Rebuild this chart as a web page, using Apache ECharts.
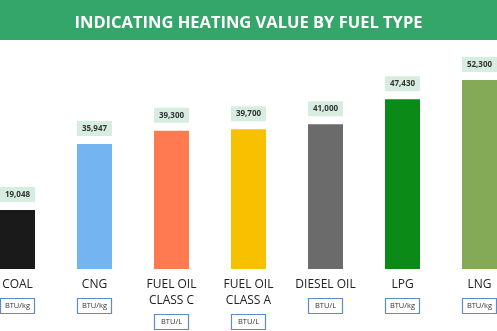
<!DOCTYPE html>
<html><head><meta charset="utf-8">
<script src="https://cdn.jsdelivr.net/npm/echarts@6/dist/echarts.min.js"></script>
<style>html,body{margin:0;padding:0;background:#fff}#c{width:497px;height:331px}</style>
</head><body><div id="c"></div>
<script>
const titleText = 'INDICATING HEATING VALUE BY FUEL TYPE';
const categories = ['COAL', 'CNG', 'FUEL OIL\nCLASS C', 'FUEL OIL\nCLASS A', 'DIESEL OIL', 'LPG', 'LNG'];
const units = ['BTU/kg', 'BTU/kg', 'BTU/L', 'BTU/L', 'BTU/L', 'BTU/kg', 'BTU/kg'];
const values = [19048, 35947, 39300, 39700, 41000, 47430, 52300];
const colors = ['#1a1a1a', '#74b4f0', '#ff7a50', '#f8c100', '#6b6b6b', '#0c8a18', '#84aa58'];

const chart = echarts.init(document.getElementById('c'), null, {renderer: 'canvas'});
const font = '"Open Sans", "Noto Sans", sans-serif';
chart.setOption({
  animation: false,
  textStyle: {fontFamily: font},
  graphic: [{type: 'rect', shape: {x: 0, y: 0, width: 497, height: 40}, style: {fill: '#34a66a'}, z: 0}],
  title: {
    text: titleText, left: 'center', top: 10,
    textStyle: {color: '#fff', fontSize: 16.5, fontWeight: 'bold', fontFamily: font}
  },
  grid: {left: -21, right: -21, top: 45, bottom: 62, containLabel: false, outerBoundsMode: 'none'},
  xAxis: {
    type: 'category', data: categories,
    axisLine: {show: false}, axisTick: {show: false},
    axisLabel: {
      interval: 0, margin: 8, hideOverlap: false,
      formatter: function (v, i) {
        const lines = v.split('\n').map(s => '{name|' + s + '}').join('\n');
        return lines + '\n{unit|' + units[i] + '}';
      },
      rich: {
        name: {fontSize: 12, lineHeight: 16, color: '#222', fontFamily: font},
        unit: {fontSize: 7.5, color: '#333', fontFamily: font, width: 32, height: 13, lineHeight: 26,
               align: 'center', borderColor: '#5b8dc8', borderWidth: 1.2, padding: [1, 1]}
      }
    }
  },
  yAxis: {type: 'value', min: 3900, max: 61300, show: false, splitLine: {show: false}},
  series: [{
    type: 'bar', barWidth: 35,
    data: values.map((v, i) => ({value: v, itemStyle: {color: colors[i]}})),
    label: {
      show: true, position: 'top', distance: 8,
      formatter: p => p.value.toLocaleString('en-US'),
      fontSize: 8, fontWeight: 'bold', color: '#333', fontFamily: font,
      backgroundColor: '#d6ede0', width: 35, height: 15, lineHeight: 15, align: 'center'
    }
  }]
});
</script></body></html>
